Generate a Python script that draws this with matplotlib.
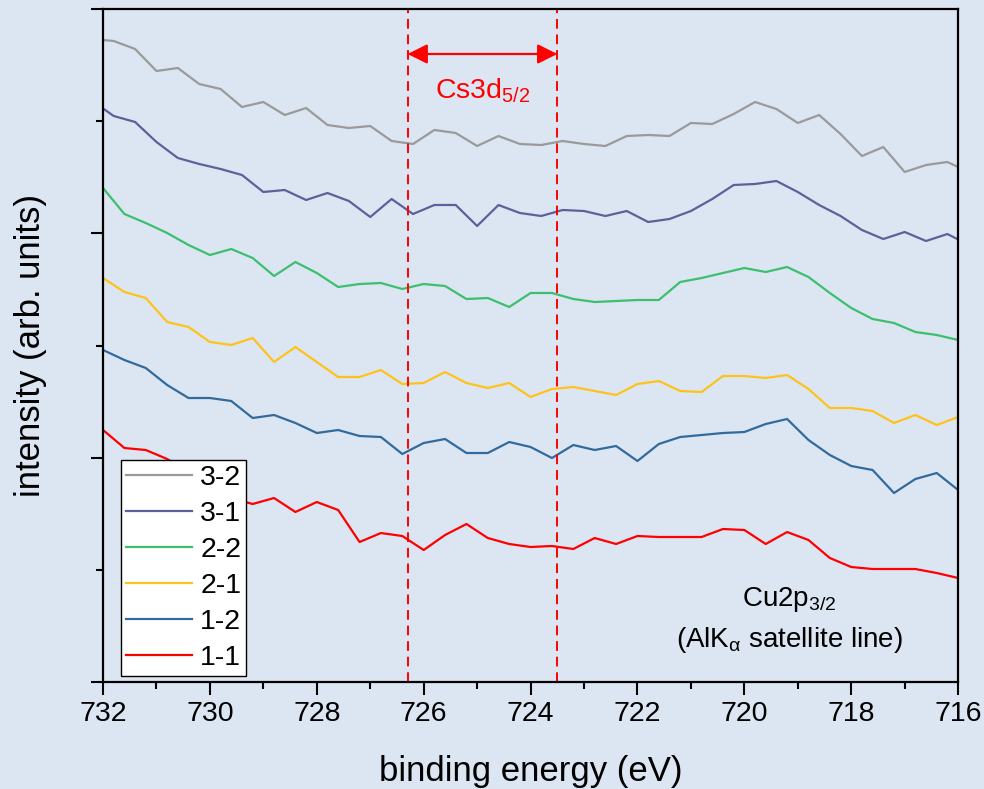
import matplotlib.pyplot as plt

plt.rcParams['font.family'] = ['Liberation Sans', 'DejaVu Sans']
plt.rcParams['mathtext.fontset'] = 'custom'
plt.rcParams['mathtext.rm'] = 'Liberation Sans'
plt.rcParams['mathtext.it'] = 'Liberation Sans:italic'

# binding energy grids (eV): two sampling grids offset by 0.2 eV
energy_a = [732.0, 731.6, 731.2, 730.8, 730.4, 730.0, 729.6, 729.2, 728.8, 728.4,
            728.0, 727.6, 727.2, 726.8, 726.4, 726.0, 725.6, 725.2, 724.8, 724.4,
            724.0, 723.6, 723.2, 722.8, 722.4, 722.0, 721.6, 721.2, 720.8, 720.4,
            720.0, 719.6, 719.2, 718.8, 718.4, 718.0, 717.6, 717.2, 716.8, 716.4,
            716.0]
energy_b = [732.2, 731.8, 731.4, 731.0, 730.6, 730.2, 729.8, 729.4, 729.0, 728.6,
            728.2, 727.8, 727.4, 727.0, 726.6, 726.2, 725.8, 725.4, 725.0, 724.6,
            724.2, 723.8, 723.4, 723.0, 722.6, 722.2, 721.8, 721.4, 721.0, 720.6,
            720.2, 719.8, 719.4, 719.0, 718.6, 718.2, 717.8, 717.4, 717.0, 716.6,
            716.2, 715.8]

# intensities (arb. units, offset spectra)
s32 = [643, 641, 633, 611, 614, 598, 593, 575, 580, 567, 574, 557, 554, 556, 541,
       538, 552, 549, 536, 546, 538, 537, 541, 538, 536, 546, 547, 546, 559, 558,
       568, 580, 573, 559, 567, 548, 526, 535, 510, 517, 520, 510]
s31 = [581, 566, 560, 540, 524, 518, 513, 507, 490, 492, 482, 489, 481, 465, 483,
       468, 477, 477, 456, 477, 469, 466, 472, 471, 466, 471, 460, 463, 471, 483,
       497, 498, 501, 490, 477, 466, 452, 443, 450, 441, 448, 437]
s22 = [494, 468, 459, 449, 437, 427, 433, 424, 406, 420, 409, 395, 398, 399, 393,
       398, 396, 383, 384, 375, 389, 389, 383, 380, 381, 382, 382, 400, 404, 409,
       414, 410, 415, 405, 389, 374, 363, 359, 350, 347, 342]
s21 = [404, 390, 384, 360, 355, 340, 337, 344, 320, 335, 320, 305, 305, 312, 298,
       299, 310, 299, 294, 299, 285, 293, 295, 291, 287, 298, 301, 291, 290, 306,
       306, 304, 307, 293, 274, 274, 271, 259, 267, 257, 265]
s12 = [332, 322, 314, 297, 284, 284, 281, 264, 267, 259, 249, 252, 246, 245, 228,
       239, 243, 229, 229, 240, 235, 224, 237, 232, 236, 221, 238, 245, 247, 249,
       250, 258, 263, 242, 227, 216, 212, 189, 203, 209, 192]
s11 = [252, 234, 232, 223, 210, 194, 184, 178, 184, 170, 180, 172, 140, 149, 146,
       132, 147, 158, 144, 138, 135, 136, 133, 144, 138, 146, 145, 145, 145, 153,
       152, 138, 150, 142, 124, 115, 113, 113, 113, 109, 104]

labels = ['3-2', '3-1', '2-2', '2-1', '1-2', '1-1']
colors = ['#9a9a9a', '#5f5f9a', '#3cbf6e', '#ffc21a', '#336a9c', '#ff0000']

cs_edges = [726.3, 723.5]
bg = '#dce6f2'

fig = plt.figure(figsize=(9.84, 7.89), dpi=100, facecolor=bg)
ax = fig.add_axes([0.1047, 0.1356, 0.869, 0.853], facecolor=bg)

series = [(energy_b, s32), (energy_b, s31), (energy_a, s22),
          (energy_a, s21), (energy_a, s12), (energy_a, s11)]
for (x, y), lab, c in zip(series, labels, colors):
    ax.plot(x, y, color=c, lw=1.6, label=lab)

for e in cs_edges:
    ax.axvline(e, color='red', lw=1.4, linestyle=(0, (5, 3)))

ax.annotate('', xy=(cs_edges[0], 628), xytext=(cs_edges[1], 628),
            arrowprops=dict(arrowstyle='<|-|>', color='red', lw=1.6,
                            mutation_scale=30, shrinkA=0, shrinkB=0))
ax.text(sum(cs_edges) / 2, 591, 'Cs3d$_{5/2}$', color='red', fontsize=20.5,
        ha='center', va='center')

ax.text(719.15, 76, 'Cu2p$_{3/2}$', fontsize=20, ha='center', va='baseline')
ax.text(719.15, 35, r'(AlK$_{\mathrm{\alpha}}$ satellite line)', fontsize=20,
        ha='center', va='baseline')

ax.set_xlim(732, 716)
ax.set_ylim(0, 673)
ax.set_xticks(range(732, 715, -2))
ax.set_xticks(range(731, 716, -2), minor=True)
ax.set_yticks([0, 224.33, 448.67, 673])
ax.set_yticks([112.17, 336.5, 560.83], minor=True)
ax.set_yticklabels([])

ax.tick_params(which='major', direction='out', length=9, width=1.5,
               labelsize=20.5, pad=5)
ax.tick_params(which='minor', direction='out', length=5, width=1.5)
for s in ax.spines.values():
    s.set_linewidth(1.6)

ax.set_xlabel('binding energy (eV)', fontsize=25, labelpad=20)
ax.set_ylabel('intensity (arb. units)', fontsize=25, labelpad=26)

leg = ax.legend(loc='lower left', bbox_to_anchor=(0.021, 0.009),
                borderaxespad=0, fontsize=20.5, handlelength=2.3,
                handletextpad=0.3, labelspacing=0.35, borderpad=0.18,
                fancybox=False, framealpha=1, edgecolor='black')
leg.get_frame().set_linewidth(1.0)

fig.savefig('out.png', dpi=100, facecolor=bg)
